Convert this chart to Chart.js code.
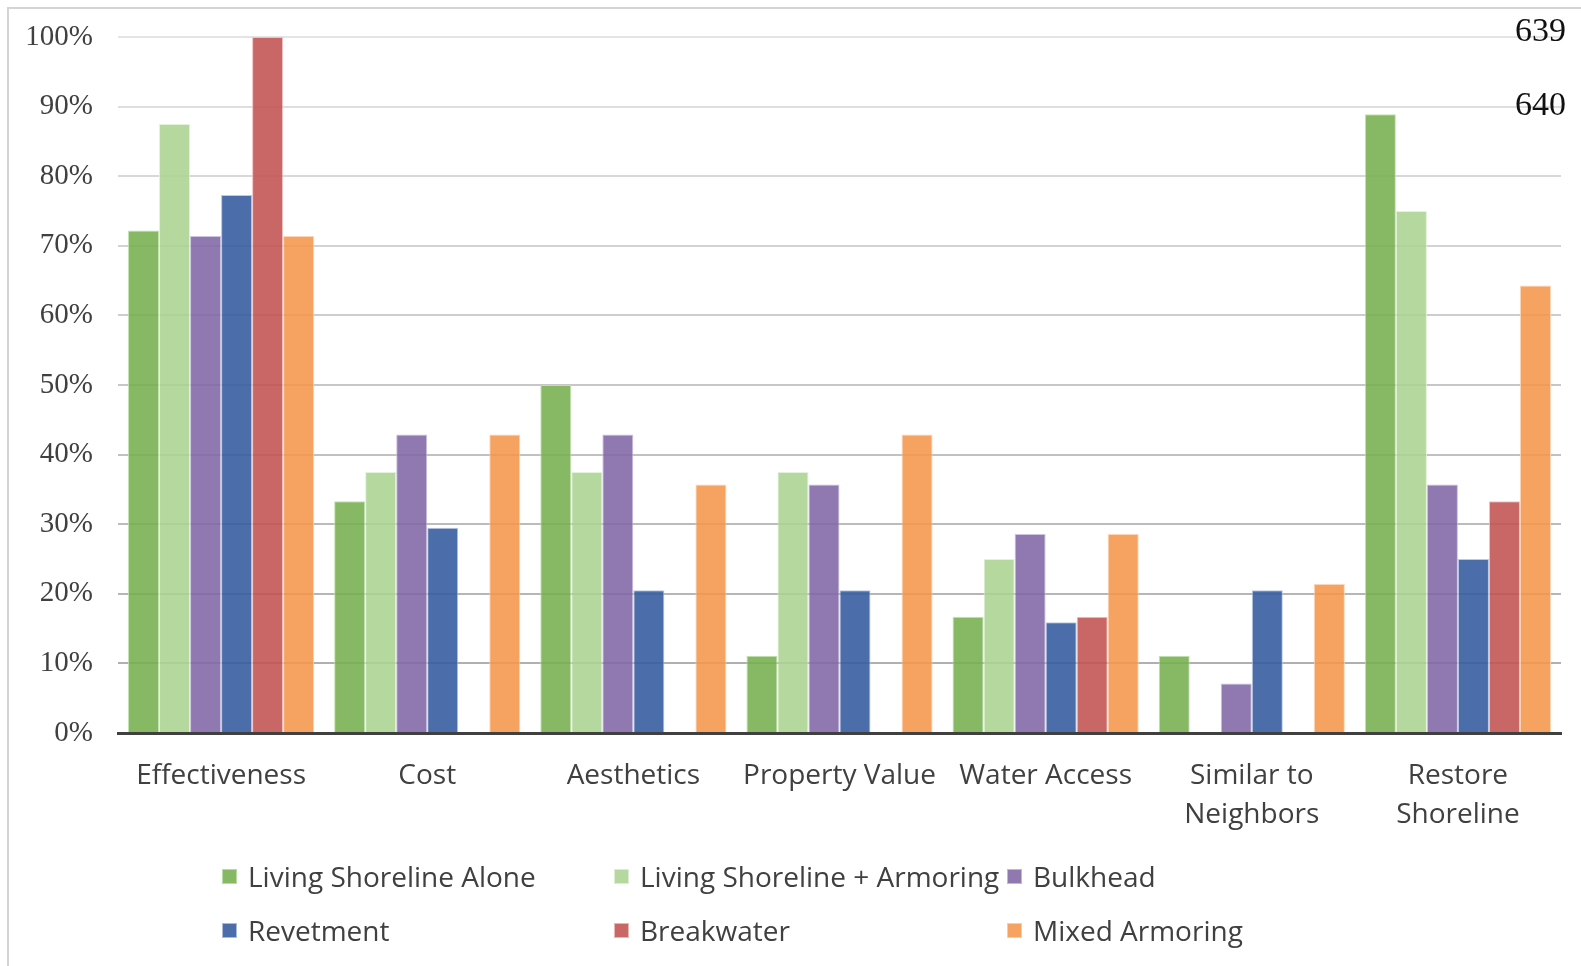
<!DOCTYPE html>
<html>
<head>
<meta charset="utf-8">
<title>Shoreline choice factors</title>
<script src="https://cdn.jsdelivr.net/npm/chart.js@4.4.1/dist/chart.umd.min.js"></script>
<style>
  html, body { margin: 0; padding: 0; background: #fff; }
  #wrap { position: relative; width: 1581px; height: 966px; overflow: hidden; }
  #frame { position: absolute; left: 7px; top: 7px; width: 1600px; height: 1000px;
           border-left: 2px solid #d4d4d4; border-top: 2px solid #d4d4d4; }
  #grafico { position: absolute; left: 0; top: 0; }
  .linha-num { position: absolute; font-family: "Liberation Serif", serif; font-size: 34px; line-height: 40px; color: #111; }
  .leg-item { position: absolute; display: flex; align-items: center; height: 40px;
              font-family: "Open Sans", sans-serif; font-size: 28px; color: #404040; white-space: nowrap; }
  .leg-item span.caixa { display: inline-block; width: 15px; height: 15px; margin-right: 11px; box-sizing: border-box; }
</style>
</head>
<body>
<div id="wrap">
  <div id="frame"></div>
  <canvas id="grafico" width="1581" height="966"></canvas>
  <div class="linha-num" style="left:1515px; top:10px;">639</div>
  <div class="linha-num" style="left:1515px; top:84px;">640</div>
  <div id="legenda"></div>
</div>
<script>
// categorias do eixo x
const categorias = [
  "Effectiveness", "Cost", "Aesthetics", "Property Value", "Water Access",
  ["Similar to", "Neighbors"], ["Restore", "Shoreline"]
];

// percentuais por tipo de margem
const livingAlone   = [72.2, 33.3, 50.0, 11.1, 16.7, 11.1, 88.9];
const livingArmor   = [87.5, 37.5, 37.5, 37.5, 25.0, 0, 75.0];
const bulkhead      = [71.4, 42.9, 42.9, 35.7, 28.6, 7.1, 35.7];
const revetment     = [77.3, 29.5, 20.5, 20.5, 15.9, 20.5, 25.0];
const breakwater    = [100, 0, 0, 0, 16.7, 0, 33.3];
const mixedArmoring = [71.4, 42.9, 35.7, 42.9, 28.6, 21.4, 64.3];

const ticksY = [0, 10, 20, 30, 40, 50, 60, 70, 80, 90, 100];

const series = [
  { nome: "Living Shoreline Alone",       dados: livingAlone,   cor: "rgba(118,175,80,0.88)",  borda: "rgba(190,225,170,0.9)" },
  { nome: "Living Shoreline + Armoring",  dados: livingArmor,   cor: "rgba(170,211,145,0.88)", borda: "rgba(225,240,215,0.9)" },
  { nome: "Bulkhead",                     dados: bulkhead,      cor: "rgba(128,103,165,0.88)", borda: "rgba(200,190,220,0.9)" },
  { nome: "Revetment",                    dados: revetment,     cor: "rgba(55,93,160,0.9)",    borda: "rgba(180,195,225,0.9)" },
  { nome: "Breakwater",                   dados: breakwater,    cor: "rgba(192,82,80,0.88)",   borda: "rgba(240,190,188,0.9)" },
  { nome: "Mixed Armoring",               dados: mixedArmoring, cor: "rgba(245,150,75,0.88)",  borda: "rgba(252,210,175,0.9)" }
];

const datasets = series.map(s => ({
  label: s.nome,
  data: s.dados,
  backgroundColor: s.cor,
  borderColor: s.borda,
  borderWidth: 1,
  borderSkipped: "bottom",
  categoryPercentage: 0.903,
  barPercentage: 1.0
}));

// grade mais clara no topo, mais escura embaixo
function corGrade(ctx) {
  const v = ctx.tick ? ctx.tick.value : 0;
  const c = Math.round(170 + (v / 100) * 58);
  return `rgb(${c},${c},${c})`;
}

const ctx = document.getElementById("grafico").getContext("2d");
const grafico = new Chart(ctx, {
  type: "bar",
  data: { labels: categorias, datasets: datasets },
  options: {
    responsive: false,
    animation: false,
    layout: { padding: { left: 0, top: 37, right: 20, bottom: 0 } },
    plugins: { legend: { display: false }, tooltip: { enabled: false } },
    scales: {
      x: {
        grid: { display: false, drawTicks: false },
        border: { color: "#404040", width: 3 },
        ticks: {
          color: "#404040",
          font: { family: "Open Sans", size: 28, lineHeight: 1.38 },
          padding: 24,
          maxRotation: 0,
          autoSkip: false
        },
        afterFit: (scale) => { scale.height = 233; }
      },
      y: {
        min: 0,
        max: 100,
        afterBuildTicks: (scale) => { scale.ticks = ticksY.map(v => ({ value: v })); },
        grid: { color: corGrade, lineWidth: 2, drawTicks: false },
        border: { display: false },
        ticks: {
          color: "#404040",
          font: { family: "Liberation Serif", size: 29 },
          padding: 25,
          callback: (v) => v + "%"
        },
        afterFit: (scale) => {
          scale.width = 118;
          // o topo da área fica só com o padding do layout
          scale.paddingTop = 0;
          scale.paddingBottom = 0;
        }
      }
    }
  }
});

// legenda em grade de 3 colunas
const legenda = document.getElementById("legenda");
const colX = [222, 614, 1007];
const linY = [876, 930];
series.forEach((s, i) => {
  const item = document.createElement("div");
  item.className = "leg-item";
  item.style.left = colX[i % 3] + "px";
  item.style.top = (linY[Math.floor(i / 3)] - 20) + "px";
  item.innerHTML = `<span class="caixa" style="background:${s.cor}; border:1px solid ${s.borda}"></span>${s.nome}`;
  legenda.appendChild(item);
});
</script>
</body>
</html>
